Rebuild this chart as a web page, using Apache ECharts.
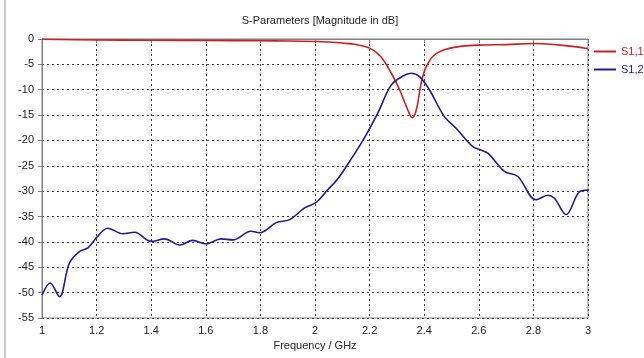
<!DOCTYPE html>
<html>
<head>
<meta charset="utf-8">
<script src="https://cdn.jsdelivr.net/npm/echarts@6/dist/echarts.min.js"></script>
<style>
  html, body { margin: 0; padding: 0; background: #fff; }
  #chart { width: 644px; height: 358px; }
</style>
</head>
<body>
<div id="chart"></div>
<script type="text/javascript">
// S1,1
var s11Freq = [1.0, 1.2, 1.4, 1.6, 1.8, 1.9, 2.0, 2.05, 2.1, 2.15, 2.2, 2.24, 2.28, 2.31, 2.34, 2.356, 2.371, 2.389, 2.407, 2.438, 2.48, 2.54, 2.6, 2.7, 2.8, 2.85, 2.9, 2.95, 3.0];
var s11Db   = [-0.05, -0.2, -0.25, -0.3, -0.35, -0.4, -0.5, -0.6, -0.8, -1.1, -1.8, -3.4, -6.8, -10.0, -14.0, -15.5, -14.0, -8.7, -5.5, -3.1, -2.0, -1.4, -1.2, -1.1, -0.9, -1.0, -1.2, -1.5, -1.9];

// S1,2
var s12Freq = [1.0, 1.03, 1.064, 1.1, 1.137, 1.168, 1.199, 1.241, 1.296, 1.339, 1.4, 1.449, 1.504, 1.552, 1.601, 1.656, 1.699, 1.766, 1.797, 1.858, 1.907, 1.962, 2.004, 2.047, 2.083, 2.138, 2.181, 2.23, 2.279, 2.322, 2.352, 2.383, 2.419, 2.474, 2.517, 2.554, 2.578, 2.603, 2.633, 2.694, 2.743, 2.81, 2.853, 2.877, 2.92, 2.969, 3.0];
var s12Db   = [-50.5, -48.1, -50.8, -44.2, -41.9, -41.2, -39.2, -37.3, -38.4, -38.1, -39.9, -39.4, -40.6, -39.7, -40.4, -39.4, -39.6, -37.9, -38.2, -36.2, -35.6, -33.3, -32.2, -29.7, -27.6, -23.2, -19.5, -14.6, -9.1, -7.3, -6.75, -7.4, -10.0, -15.3, -17.6, -19.9, -21.2, -21.8, -22.5, -26.1, -27.1, -31.7, -30.8, -31.4, -34.6, -30.1, -29.8];

function pairs(xs, ys) {
    var out = [];
    for (var i = 0; i < xs.length; i++) out.push([xs[i], ys[i]]);
    return out;
}

var font = 'Liberation Sans';
var red = '#cc1f1f';
var blue = '#1c1c9c';
var gridLine = { show: true, lineStyle: { color: '#444', width: 1, type: [2, 3] } };

var myChart = echarts.init(document.getElementById('chart'));
var option = {
    animation: false,
    title: {
        text: 'S-Parameters [Magnitude in dB]',
        left: 315, top: 10, textAlign: 'center',
        textStyle: { fontFamily: font, fontSize: 11, fontWeight: 'normal', color: '#222' }
    },
    legend: [{
        data: ['S1,1'], orient: 'vertical', left: 589, top: 41, padding: 5,
        icon: 'rect', itemWidth: 22, itemHeight: 2, itemGap: 8,
        textStyle: { fontFamily: font, fontSize: 11, color: red }
    }, {
        data: ['S1,2'], orient: 'vertical', left: 589, top: 59, padding: 5,
        icon: 'rect', itemWidth: 22, itemHeight: 2, itemGap: 8,
        textStyle: { fontFamily: font, fontSize: 11, color: blue }
    }],
    grid: {
        left: 42, right: 56, top: 39, bottom: 40,
        show: true, borderColor: '#808080', borderWidth: 1
    },
    xAxis: {
        type: 'value', min: 1, max: 3, interval: 0.2,
        name: 'Frequency / GHz', nameLocation: 'middle', nameGap: 20,
        nameTextStyle: { fontFamily: font, fontSize: 11, color: '#222' },
        axisLine: { show: true, lineStyle: { color: '#808080' } },
        axisTick: { show: true, length: 4, lineStyle: { color: '#808080' } },
        axisLabel: { fontFamily: font, fontSize: 11, color: '#222', margin: 7 },
        splitLine: gridLine
    },
    yAxis: {
        type: 'value', min: -55, max: 0, interval: 5,
        axisLine: { show: true, lineStyle: { color: '#808080' } },
        axisTick: { show: true, length: 4, lineStyle: { color: '#808080' } },
        axisLabel: { fontFamily: font, fontSize: 11, color: '#222', margin: 8 },
        splitLine: gridLine
    },
    graphic: [{
        type: 'line', shape: { x1: 5, y1: 0, x2: 5, y2: 358 },
        style: { stroke: '#999', lineWidth: 1 }
    }],
    series: [{
        name: 'S1,1', type: 'line', data: pairs(s11Freq, s11Db),
        showSymbol: false, smooth: 0.35,
        lineStyle: { color: red, width: 1.6 }, itemStyle: { color: red }
    }, {
        name: 'S1,2', type: 'line', data: pairs(s12Freq, s12Db),
        showSymbol: false, smooth: 0.35,
        lineStyle: { color: blue, width: 1.6 }, itemStyle: { color: blue }
    }]
};
myChart.setOption(option);
</script>
</body>
</html>
